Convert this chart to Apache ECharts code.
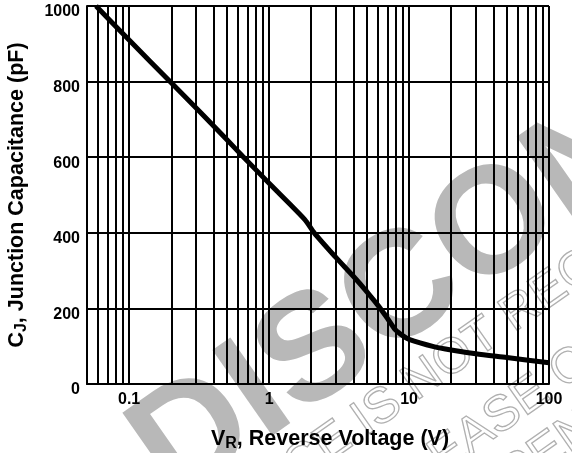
<!DOCTYPE html>
<html>
<head>
<meta charset="utf-8">
<script src="https://cdn.jsdelivr.net/npm/echarts@6/dist/echarts.min.js"></script>
<style>
  html, body { margin: 0; padding: 0; background: #fff; }
  #chart_01 { width: 572px; height: 453px; }
</style>
</head>
<body>
<div id="chart_01"></div>
<script>
// curve: reverse voltage (V) -> junction capacitance (pF)
var voltage = [0.058, 0.1, 0.2, 0.32, 0.5, 0.65, 1, 1.8, 2.1, 3, 4, 5, 6, 7, 8, 9, 10, 15, 20, 30, 50, 100];
var capacitance = [1000, 910, 797, 720, 646, 602, 531, 435, 400, 335, 285, 244, 208, 174, 143, 128, 118, 99, 90, 80, 70, 56];

// minor log grid lines (2..9 of each decade)
var minorLines = [0.06, 0.07, 0.08, 0.09,
    0.2, 0.3, 0.4, 0.5, 0.6, 0.7, 0.8, 0.9,
    2, 3, 4, 5, 6, 7, 8, 9,
    20, 30, 40, 50, 60, 70, 80, 90];
var xLabels = [0.1, 1, 10, 100];

var FONT = 'Arial, "Liberation Sans", sans-serif';

var myChart = echarts.init(document.getElementById('chart_01'));

function watermarkText(x, y, deg, text, align, size, filled) {
    return {
        type: 'text',
        x: x, y: y,
        rotation: deg * Math.PI / 180,
        z: -10,
        silent: true,
        style: {
            text: text,
            align: align,
            verticalAlign: 'middle',
            font: (filled ? 'bold ' : '') + size + 'px ' + FONT,
            fill: filled ? '#b8b8b8' : 'none',
            stroke: filled ? null : '#b0b0b0',
            lineWidth: filled ? 0 : 1.3
        }
    };
}

var nameRich = {
    m: { fontSize: 21.5, fontWeight: 'bold', color: '#000', lineHeight: 26, verticalAlign: 'top', fontFamily: FONT },
    s: { fontSize: 16, fontWeight: 'bold', color: '#000', lineHeight: 20, verticalAlign: 'top', padding: [8, 0, 0, 0], fontFamily: FONT }
};

var option = {
    backgroundColor: '#fff',
    animation: false,
    textStyle: { fontFamily: FONT },
    graphic: [
        watermarkText(150, 470, 35, 'DISCONTINUED', 'left', 152, true),
        watermarkText(408, 390, 35, 'THIS DEVICE IS ', 'right', 50, false),
        watermarkText(408, 390, 35, 'NOT RECOMMENDED FOR NEW DESIGN', 'left', 50, false),
        watermarkText(462, 444, 35, 'PLE', 'right', 50, false),
        watermarkText(462, 444, 35, 'ASE CONTACT', 'left', 50, false),
        watermarkText(534, 462, 35, 'REPRES', 'right', 50, false),
        watermarkText(534, 462, 35, 'ENTATIVE', 'left', 50, false)
    ],
    grid: {
        left: 87,
        right: 23,
        top: 6,
        bottom: 69,
        containLabel: false,
        outerBoundsMode: 'none'
    },
    xAxis: {
        type: 'log',
        logBase: 10,
        min: 0.05,
        max: 100,
        name: '{m|V}{s|R}{m|, Reverse Voltage (V)}',
        nameLocation: 'middle',
        nameGap: 44,
        nameTextStyle: { rich: nameRich, padding: [0, 0, 0, 24] },
        axisLine: { lineStyle: { color: '#000', width: 2 } },
        axisTick: { show: false },
        axisLabel: {
            color: '#000',
            fontSize: 16,
            fontWeight: 'bold',
            margin: 8,
            showMinLabel: false,
            formatter: function (v) {
                for (var i = 0; i < xLabels.length; i++) {
                    if (Math.abs(v / xLabels[i] - 1) < 1e-6) return String(xLabels[i]);
                }
                return '';
            }
        },
        splitLine: { show: true, lineStyle: { color: '#000', width: 2 } },
        minorTick: { show: false },
        minorSplitLine: { show: false }
    },
    yAxis: {
        type: 'value',
        min: 0,
        max: 1000,
        interval: 200,
        name: '{m|C}{s|J}{m|, Junction Capacitance (pF)}',
        nameLocation: 'middle',
        nameGap: 55,
        nameTextStyle: { rich: nameRich },
        axisLine: { show: true, lineStyle: { color: '#000', width: 2 } },
        axisTick: { show: false },
        axisLabel: {
            color: '#000',
            fontSize: 16,
            fontWeight: 'bold',
            margin: 7,
            verticalAlign: 'top',
            lineHeight: 12,
            formatter: function (v) { return String(v); }
        },
        splitLine: { show: true, lineStyle: { color: '#000', width: 2 } }
    },
    series: [
        {
            type: 'line',
            data: voltage.map(function (v, i) { return [v, capacitance[i]]; }),
            showSymbol: false,
            smooth: 0.25,
            lineStyle: { color: '#000', width: 5 },
            z: 3,
            markLine: {
                silent: true,
                symbol: ['none', 'none'],
                label: { show: false },
                lineStyle: { color: '#000', width: 2, type: 'solid' },
                data: minorLines.map(function (v) { return { xAxis: v }; })
            }
        }
    ]
};

myChart.setOption(option);
</script>
</body>
</html>
